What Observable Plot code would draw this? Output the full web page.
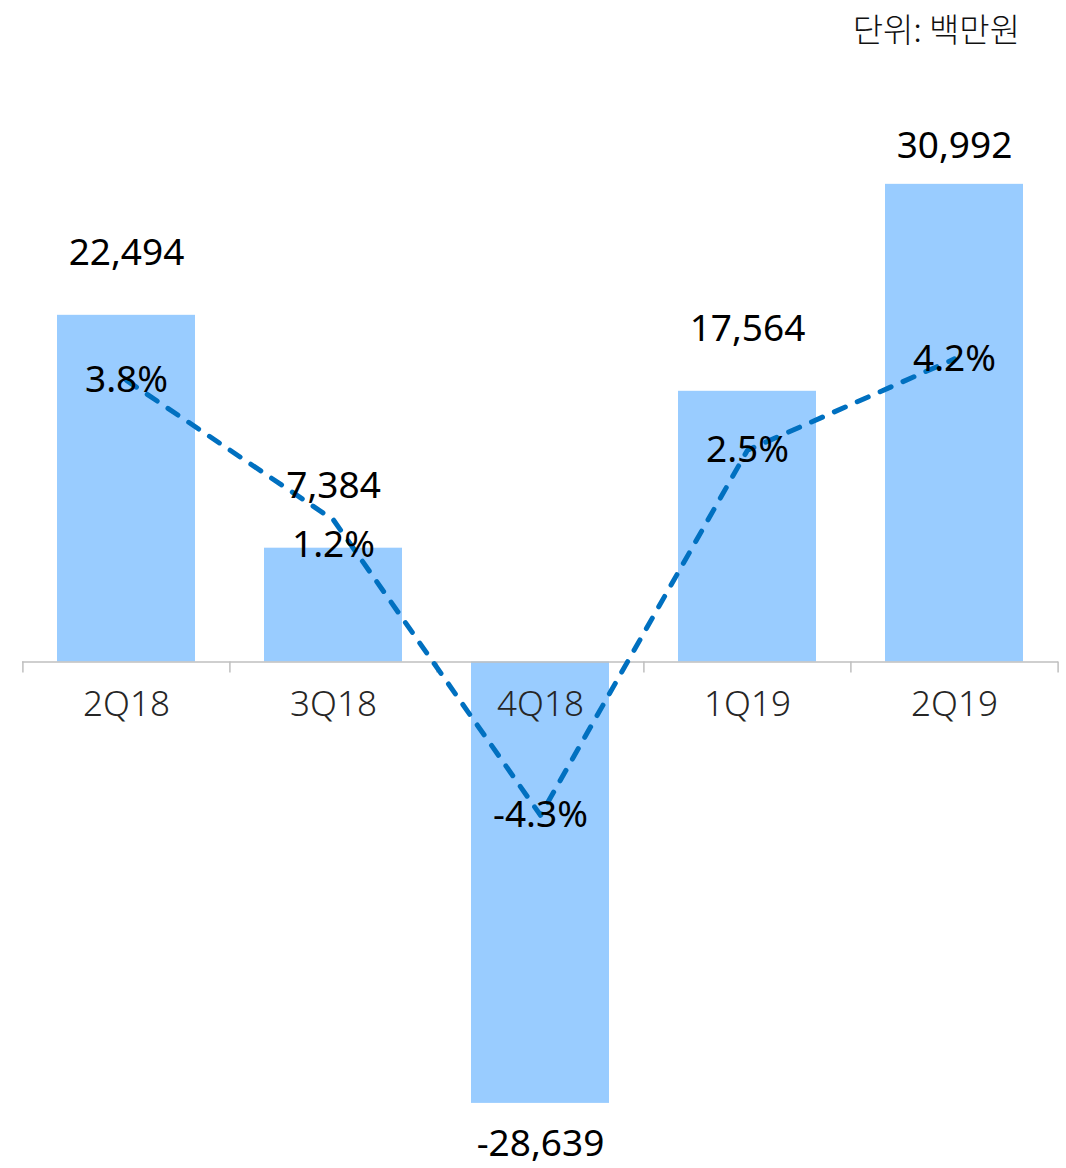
<!DOCTYPE html>
<html><head><meta charset="utf-8">
<script src="https://cdn.jsdelivr.net/npm/d3@7"></script>
<script src="https://cdn.jsdelivr.net/npm/@observablehq/plot@0.6"></script>
<style>
body{margin:0;background:#fff;}
#unit{height:60px;line-height:56px;text-align:right;padding-right:46px;font-family:"Noto Sans CJK KR","Noto Sans",sans-serif;font-size:33px;font-weight:300;color:#111;}
</style></head><body>
<div id="unit"></div>
<div id="chart"></div>
<script>
const quarters = ["2Q18","3Q18","4Q18","1Q19","2Q19"];
const profit = [22494, 7384, -28639, 17564, 30992];   // 백만원
const margin = [3.8, 1.2, -4.3, 2.5, 4.2];             // %
const unitLabel = "단위: 백만원";

document.getElementById("unit").textContent = unitLabel;

const data = quarters.map((q, i) => ({q, v: profit[i], p: margin[i]}));

// hidden secondary (percent) axis mapped onto the primary y domain
const yDomain = [-32000, 32000];
const pctAxis = d3.scaleLinear().domain([-10.63, 7.74]).range(yDomain);

const fmtV = v => v.toLocaleString("en-US");
const fmtP = p => p.toFixed(1) + "%";

const txt = {fontSize: 37, fill: "#000", textAnchor: "middle"};
const step = 1036 / quarters.length;

const chart = Plot.plot({
  width: 1066, height: 1108,
  marginLeft: 22, marginRight: 8, marginTop: 0, marginBottom: 0,
  x: {domain: quarters, range: [22, 1058], paddingInner: 0.334, paddingOuter: 0.167, axis: null},
  y: {domain: yDomain, range: [1094.7, 108.3], axis: null},
  style: {fontFamily: "'Noto Sans', sans-serif", background: "#fff", overflow: "visible"},
  marks: [
    Plot.barY(data, {x: "q", y: "v", fill: "#99CCFF"}),
    Plot.ruleY([0], {stroke: "#BFBFBF", strokeWidth: 1.5}),
    Plot.ruleX(quarters, {x: d => d, y1: 0, y2: -720, dx: -step / 2, stroke: "#BFBFBF", strokeWidth: 1.5}),
    Plot.ruleX(quarters.slice(-1), {x: d => d, y1: 0, y2: -720, dx: step / 2, stroke: "#BFBFBF", strokeWidth: 1.5}),
    Plot.line(data, {x: "q", y: d => pctAxis(d.p), stroke: "#0070C0", strokeWidth: 5,
      strokeDasharray: "12,13", strokeLinecap: "round", strokeLinejoin: "round"}),
    Plot.text(quarters, {x: d => d, y: 0, text: d => d, dy: 43, fontSize: 35, fill: "#262626", fontWeight: 300, textAnchor: "middle"}),
    Plot.text(data.filter(d => d.v > 0 && d.q !== "2Q19"), {x: "q", y: "v", text: d => fmtV(d.v), dy: -62, ...txt}),
    Plot.text(data.filter(d => d.q === "2Q19"), {x: "q", y: "v", text: d => fmtV(d.v), dy: -38, ...txt}),
    Plot.text(data.filter(d => d.v < 0), {x: "q", y: "v", text: d => fmtV(d.v), dy: 41, ...txt}),
    Plot.text(data.filter(d => d.q !== "3Q18"), {x: "q", y: d => pctAxis(d.p), text: d => fmtP(d.p), ...txt}),
    Plot.text(data.filter(d => d.q === "3Q18"), {x: "q", y: d => pctAxis(d.p), text: d => fmtP(d.p), dy: 25, ...txt})
  ]
});
document.getElementById("chart").appendChild(chart);
</script>
</body></html>
